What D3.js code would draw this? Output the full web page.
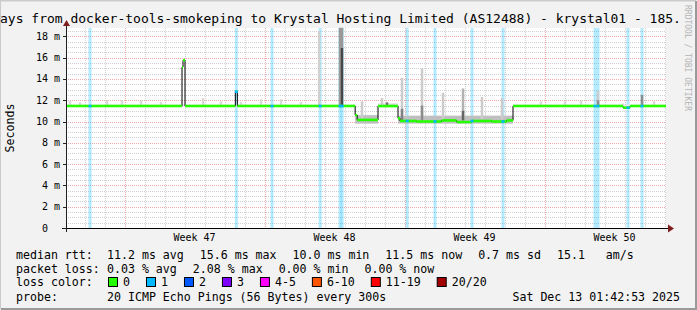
<!DOCTYPE html>
<html>
<head>
<meta charset="utf-8">
<script src="https://cdn.jsdelivr.net/npm/d3@7"></script>
<style>
  html, body { margin: 0; padding: 0; background: #f2f2f2; }
  svg { display: block; }
  text { font-family: "DejaVu Sans Mono", monospace; white-space: pre; }
</style>
</head>
<body>
<svg id="chart" width="697" height="310"></svg>
<script>
// Data (times kept as plain UTC clock values)
const startTime = "2025-11-13 01:42";
const endTime = "2025-12-13 01:42";

const yTicks = [0, 2, 4, 6, 8, 10, 12, 14, 16, 18];
const weekLabels = [
  ["2025-11-19 12:00", "Week 47"],
  ["2025-11-26 12:00", "Week 48"],
  ["2025-12-03 12:00", "Week 49"],
  ["2025-12-10 12:00", "Week 50"]
];

// median rtt in ms, each value holds until the next time
const medianSteps = [
  ["2025-11-13 01:42", 11.45],
  ["2025-11-18 20:55", 15.1],
  ["2025-11-18 22:07", 15.75],
  ["2025-11-19 00:31", 11.45],
  ["2025-11-21 12:55", 12.8],
  ["2025-11-21 15:19", 11.45],
  ["2025-11-27 12:43", 10.6],
  ["2025-11-27 15:07", 10.15],
  ["2025-11-28 16:07", 11.45],
  ["2025-11-29 16:07", 10.3],
  ["2025-11-29 18:31", 10.05],
  ["2025-11-30 14:31", 10.0],
  ["2025-12-01 20:31", 10.1],
  ["2025-12-02 14:31", 9.95],
  ["2025-12-03 08:31", 10.05],
  ["2025-12-04 08:31", 10.0],
  ["2025-12-05 02:31", 10.1],
  ["2025-12-05 10:07", 11.45],
  ["2025-12-10 22:07", 11.3],
  ["2025-12-11 06:31", 11.45]
];

// lost pings (of 20) per sample
const lossEvents = [
  ["2025-11-14 06:31", 1],
  ["2025-11-21 14:08", 1],
  ["2025-11-23 08:55", 1],
  ["2025-11-25 18:43", 1],
  ["2025-11-26 18:31", 1],
  ["2025-11-26 21:07", 1],
  ["2025-11-30 03:07", 1],
  ["2025-12-01 12:31", 1],
  ["2025-12-03 08:55", 1],
  ["2025-12-04 22:07", 1],
  ["2025-12-09 12:31", 1],
  ["2025-12-09 16:07", 1],
  ["2025-12-11 04:07", 1],
  ["2025-12-11 20:55", 1]
];

// smoke: [from, to, low ms, high ms, density]
const smokeBands = [
  ["2025-11-13 01:42", "2025-11-27 12:43", 11.35, 11.6, 0.1],
  ["2025-11-27 12:43", "2025-11-28 16:07", 9.8, 10.6, 0.25],
  ["2025-11-28 16:07", "2025-11-29 16:07", 11.35, 11.7, 0.15],
  ["2025-11-29 16:07", "2025-12-05 10:07", 9.8, 10.55, 0.25],
  ["2025-12-05 10:07", "2025-12-13 01:42", 11.35, 11.6, 0.1]
];

// smoke spikes: [time, low ms, high ms, density]
const smokeSpikes = [
  ["2025-11-13 06:31", 11.4, 11.95, 0.15],
  ["2025-11-13 18:31", 11.4, 11.8, 0.15],
  ["2025-11-15 02:55", 11.4, 12.0, 0.15],
  ["2025-11-15 20:55", 11.4, 12.0, 0.15],
  ["2025-11-16 19:43", 11.4, 12.0, 0.15],
  ["2025-11-17 19:43", 11.4, 11.85, 0.15],
  ["2025-11-19 22:07", 11.4, 12.2, 0.15],
  ["2025-11-20 19:43", 11.4, 11.9, 0.15],
  ["2025-11-21 19:43", 11.4, 11.85, 0.15],
  ["2025-11-22 19:43", 11.4, 12.1, 0.15],
  ["2025-11-23 19:43", 11.4, 12.1, 0.15],
  ["2025-11-24 19:43", 11.4, 11.85, 0.15],
  ["2025-11-25 17:31", 11.4, 18.5, 0.18],
  ["2025-11-26 18:31", 11.4, 18.8, 0.4],
  ["2025-11-26 20:55", 16.9, 18.8, 0.4],
  ["2025-11-26 20:55", 11.4, 16.9, 0.72],
  ["2025-11-27 20:55", 10.2, 11.9, 0.2],
  ["2025-11-28 20:55", 11.4, 12.2, 0.2],
  ["2025-11-29 02:55", 11.55, 11.8, 0.55],
  ["2025-11-29 20:55", 10.3, 14.1, 0.2],
  ["2025-11-29 20:55", 10.1, 11.2, 0.5],
  ["2025-11-30 20:55", 10.2, 15.0, 0.2],
  ["2025-11-30 20:55", 10.1, 11.5, 0.45],
  ["2025-12-01 22:07", 10.2, 12.7, 0.2],
  ["2025-12-02 22:07", 10.2, 13.1, 0.3],
  ["2025-12-02 22:07", 10.1, 11.0, 0.6],
  ["2025-12-03 20:55", 10.2, 12.3, 0.2],
  ["2025-12-04 20:55", 10.2, 12.2, 0.2],
  ["2025-12-06 19:43", 11.4, 11.9, 0.15],
  ["2025-12-08 00:31", 11.4, 11.9, 0.15],
  ["2025-12-08 19:43", 11.4, 12.0, 0.15],
  ["2025-12-09 16:07", 11.4, 12.9, 0.2],
  ["2025-12-09 16:07", 11.4, 12.0, 0.45],
  ["2025-12-10 22:07", 11.4, 11.7, 0.15],
  ["2025-12-11 20:55", 11.4, 12.5, 0.45],
  ["2025-12-12 11:19", 11.4, 11.9, 0.15]
];

const titleText = "ays from docker-tools-smokeping to Krystal Hosting Limited (AS12488) - krystal01 - 185.";
const rttStats = ["11.2 ms avg", "15.6 ms max", "10.0 ms min", "11.5 ms now", "0.7 ms sd", "15.1   am/s"];
const lossStats = ["0.03 % avg", "2.08 % max", "0.00 % min", "0.00 % now"];
const lossColors = [
  ["0", "#26ff00"], ["1", "#00b8ff"], ["2", "#0059ff"], ["3", "#7e00ff"],
  ["4-5", "#ff00ff"], ["6-10", "#ff5500"], ["11-19", "#ff0000"], ["20/20", "#a10000"]
];
const probeText = "20 ICMP Echo Pings (56 Bytes) every 300s";
const stampText = "Sat Dec 13 01:42:53 2025";

// ---------------------------------------------------------------
const W = 697, H = 310;
const parse = d3.utcParse("%Y-%m-%d %H:%M");
const t0 = parse(startTime), t1 = parse(endTime);

const x = d3.scaleUtc().domain([t0, t1]).range([66, 666]);
const y = d3.scaleLinear().domain([0, 18.78]).range([228, 28]);
const shade = d3.scaleLinear().domain([0, 1]).range(["#ffffff", "#000000"]);
const lossColor = n => lossColors[Math.min(n, lossColors.length - 1)][1];

const svg = d3.select("#chart");

// background + 3d frame
svg.append("rect").attr("width", W).attr("height", H).attr("fill", "#f2f2f2");
svg.append("path").attr("d", `M0,${H - 1}V0.5H${W - 1}`).attr("stroke", "#cbcbcb").attr("stroke-width", 2).attr("fill", "none");
svg.append("path").attr("d", `M1,${H - 1}H${W - 1}V1`).attr("stroke", "#9a9a9a").attr("stroke-width", 2).attr("fill", "none");

// canvas
svg.append("rect")
  .attr("x", x.range()[0]).attr("y", y.range()[1])
  .attr("width", x.range()[1] - x.range()[0]).attr("height", y.range()[0] - y.range()[1])
  .attr("fill", "#ffffff");

// grid
const grid = svg.append("g").attr("shape-rendering", "crispEdges").attr("stroke-width", 1).attr("stroke-dasharray", "1,1");
const minorY = d3.range(0.5, y.domain()[1], 0.5).filter(v => v % 2 !== 0);
grid.selectAll(".gy").data(minorY).enter().append("line")
  .attr("x1", 66).attr("x2", 666)
  .attr("y1", d => Math.round(y(d)) + 0.5).attr("y2", d => Math.round(y(d)) + 0.5)
  .attr("stroke", "#cfcfcf");
const days = d3.utcDay.range(t0, t1).filter(d => d.getUTCDay() !== 0);
grid.selectAll(".gx").data(days).enter().append("line")
  .attr("x1", d => Math.round(x(d)) + 0.5).attr("x2", d => Math.round(x(d)) + 0.5)
  .attr("y1", 28).attr("y2", 228)
  .attr("stroke", "#cfcfcf");
grid.selectAll(".my").data(yTicks.filter(v => v > 0)).enter().append("line")
  .attr("x1", 66).attr("x2", 666)
  .attr("y1", d => Math.round(y(d)) + 0.5).attr("y2", d => Math.round(y(d)) + 0.5)
  .attr("stroke", "#f0a8a8");
grid.selectAll(".mx").data(d3.utcSunday.range(t0, t1)).enter().append("line")
  .attr("x1", d => Math.round(x(d)) + 0.5).attr("x2", d => Math.round(x(d)) + 0.5)
  .attr("y1", 28).attr("y2", 228)
  .attr("stroke", "#f0a8a8");

// loss background bars
svg.append("g").selectAll("rect").data(lossEvents).enter().append("rect")
  .attr("x", d => x(parse(d[0])) - 1.5).attr("width", 3)
  .attr("y", 28).attr("height", 200)
  .attr("fill", d => lossColor(d[1])).attr("opacity", 0.3);

// smoke
svg.append("g").selectAll("rect").data(smokeBands).enter().append("rect")
  .attr("x", d => x(parse(d[0]))).attr("width", d => x(parse(d[1])) - x(parse(d[0])))
  .attr("y", d => y(d[3])).attr("height", d => y(d[2]) - y(d[3]))
  .attr("fill", d => shade(d[4]));
svg.append("g").selectAll("rect").data(smokeSpikes).enter().append("rect")
  .attr("x", d => x(parse(d[0])) - 1.25).attr("width", 2.5)
  .attr("y", d => y(d[2])).attr("height", d => y(d[1]) - y(d[2]))
  .attr("fill", d => shade(d[3]));

// median
const steps = medianSteps.map(d => ({t: parse(d[0]), v: d[1]}));
steps.push({t: t1, v: steps[steps.length - 1].v});
svg.append("path")
  .datum(steps)
  .attr("d", d3.line().x(d => x(d.t)).y(d => y(d.v)).curve(d3.curveStepAfter))
  .attr("fill", "none").attr("stroke", "#000").attr("stroke-width", 1);
svg.append("g").selectAll("line").data(steps.slice(0, -1)).enter().append("line")
  .attr("x1", d => x(d.t)).attr("x2", (d, i) => x(steps[i + 1].t))
  .attr("y1", d => y(d.v)).attr("y2", d => y(d.v))
  .attr("stroke", lossColor(0)).attr("stroke-width", 2.6);
const bisect = d3.bisector(d => d.t).right;
svg.append("g").selectAll("line").data(lossEvents).enter().append("line")
  .each(function(d) {
    const t = parse(d[0]);
    const v = steps[Math.max(0, bisect(steps, t) - 1)].v;
    d3.select(this)
      .attr("x1", x(t) - 1.5).attr("x2", x(t) + 1.5)
      .attr("y1", y(v)).attr("y2", y(v));
  })
  .attr("stroke", d => lossColor(d[1])).attr("stroke-width", 2.6);

// axes
const axis = svg.append("g").attr("shape-rendering", "crispEdges");
axis.append("line").attr("x1", 62).attr("x2", 671).attr("y1", 228.5).attr("y2", 228.5).attr("stroke", "#000");
axis.append("line").attr("x1", 66.5).attr("x2", 66.5).attr("y1", 232).attr("y2", 24).attr("stroke", "#202020");
axis.selectAll(".ty").data(yTicks).enter().append("line")
  .attr("x1", 63).attr("x2", 66)
  .attr("y1", d => Math.round(y(d)) + 0.5).attr("y2", d => Math.round(y(d)) + 0.5)
  .attr("stroke", "#202020");
svg.append("path").attr("d", "M668,224.5L674,228.5L668,232.5Z").attr("fill", "#7f1e1e");
svg.append("path").attr("d", "M63,26L66.5,20L70,26Z").attr("fill", "#7f1e1e");

// axis labels
svg.append("g").selectAll("text").data(yTicks).enter().append("text")
  .attr("x", d => d === 0 ? 48 : 60)
  .attr("y", d => y(d) + 3.5)
  .attr("text-anchor", "end")
  .attr("font-size", "10px")
  .attr("fill", "#000")
  .text(d => d === 0 ? "0" : d + " m");
svg.append("g").selectAll("text").data(weekLabels).enter().append("text")
  .attr("x", d => x(parse(d[0])))
  .attr("y", 241)
  .attr("text-anchor", "middle")
  .attr("font-size", "10px")
  .text(d => d[1]);
svg.append("text")
  .attr("transform", "translate(14,128) rotate(-90)")
  .attr("text-anchor", "middle")
  .attr("font-size", "11.6px")
  .text("Seconds");

// title + watermark
svg.append("text").attr("x", 0).attr("y", 23).attr("font-size", "13px").text(titleText);
svg.append("text")
  .attr("transform", "translate(685,5) rotate(90)")
  .attr("font-size", "8px").attr("fill", "#b4b4b4")
  .text("RRDTOOL / TOBI OETIKER");

// legend
const LF = "11.6px", GAP = 16;
const legend = svg.append("g").attr("font-size", LF).attr("fill", "#000");
function row(label, items, yb) {
  legend.append("text").attr("x", 16).attr("y", yb).text(label);
  let cx = 107;
  items.forEach(s => {
    const t = legend.append("text").attr("x", cx).attr("y", yb).text(s);
    cx += t.node().getComputedTextLength() + GAP;
  });
}
row("median rtt:", rttStats, 258.5);
row("packet loss:", lossStats, 272.5);

legend.append("text").attr("x", 16).attr("y", 286).text("loss color:");
let bx = 108;
lossColors.forEach(d => {
  legend.append("rect").attr("x", bx + 0.5).attr("y", 277.5).attr("width", 9).attr("height", 9)
    .attr("fill", d[1]).attr("stroke", "#000").attr("stroke-width", 1);
  const t = legend.append("text").attr("x", bx + 15).attr("y", 286).text(d[0]);
  bx += 15 + t.node().getComputedTextLength() + GAP;
});

legend.append("text").attr("x", 16).attr("y", 301).text("probe:");
legend.append("text").attr("x", 107).attr("y", 301).text(probeText);
legend.append("text").attr("x", 680).attr("y", 301).attr("text-anchor", "end").text(stampText);
</script>
</body>
</html>
